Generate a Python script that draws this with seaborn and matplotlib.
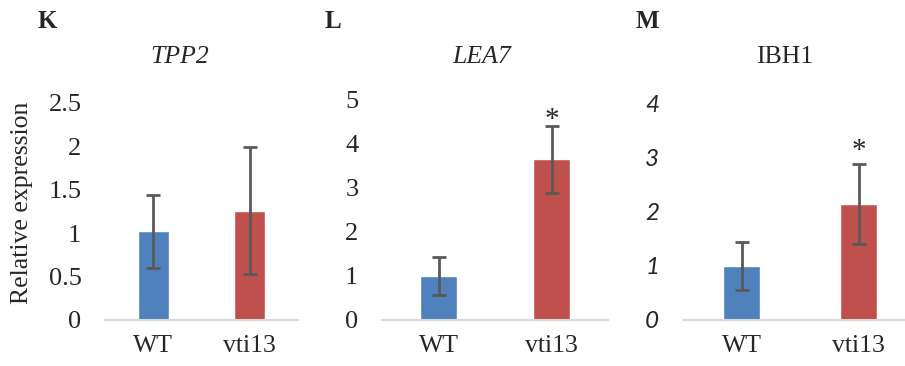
import matplotlib
matplotlib.use("Agg")
import matplotlib.pyplot as plt
import seaborn as sns
import pandas as pd

# Expression data (mean and error) for each gene
genotypes = ["WT", "vti13"]
genes = ["TPP2", "LEA7", "IBH1"]
panel_letters = ["K", "L", "M"]
tpp2_mean = [1.02, 1.26]
tpp2_err = [0.42, 0.73]
lea7_mean = [1.00, 3.65]
lea7_err = [0.43, 0.76]
ibh1_mean = [1.00, 2.15]
ibh1_err = [0.45, 0.74]
significant = [[False, False], [False, True], [False, True]]
y_max = [2.5, 5, 4]
y_ticks = [[0, 0.5, 1, 1.5, 2, 2.5], [0, 1, 2, 3, 4, 5], [0, 1, 2, 3, 4]]
y_ticklabels = [["0", "0.5", "1", "1.5", "2", "2.5"],
                ["0", "1", "2", "3", "4", "5"],
                ["0", "1", "2", "3", "4"]]

means = [tpp2_mean, lea7_mean, ibh1_mean]
errs = [tpp2_err, lea7_err, ibh1_err]

sns.set_style("white")
plt.rcParams["font.family"] = ["Liberation Serif", "DejaVu Serif"]

W, H = 905, 366
fig = plt.figure(figsize=(W / 100, H / 100), dpi=100)

# axes boxes in pixels: left, right, top, bottom
boxes = [(105, 298, 103, 320), (382, 608, 100, 320), (683, 917, 104, 320)]
title_x = [180, 482, 785]
letter_x = [47, 333, 647]
star_offset = [0, -5, 0]

colors = {"WT": "#4F81BD", "vti13": "#C0504D"}

for i, (l, r, t, b) in enumerate(boxes):
    ax = fig.add_axes([l / W, 1 - b / H, (r - l) / W, (b - t) / H])
    df = pd.DataFrame({"genotype": genotypes, "value": means[i]})
    sns.barplot(data=df, x="genotype", y="value", hue="genotype",
                palette=colors, width=0.32, ax=ax, legend=False,
                saturation=1, errorbar=None)
    ax.errorbar(range(len(genotypes)), means[i], yerr=errs[i], fmt="none",
                ecolor="#595959", elinewidth=2, capsize=5, capthick=2)
    for j, sig in enumerate(significant[i]):
        if sig:
            ax.annotate("*", (j, means[i][j] + errs[i][j]),
                        xytext=(0, star_offset[i]), textcoords="offset points",
                        ha="center", va="bottom", fontsize=21,
                        family="Liberation Serif")
    ax.set_xlim(-0.5, 1.5)
    ax.set_ylim(0, y_max[i])
    ax.set_yticks(y_ticks[i])
    if i == 2:
        ax.set_yticklabels(y_ticklabels[i], fontsize=17.5, style="italic",
                           family=["Lato", "DejaVu Sans"])
    else:
        ax.set_yticklabels(y_ticklabels[i], fontsize=19)
    ax.tick_params(axis="y", length=0, pad=17)
    ax.tick_params(axis="x", length=0, pad=11, labelsize=18.5)
    ax.set_xlabel("")
    ax.set_ylabel("")
    for s in ["top", "right", "left"]:
        ax.spines[s].set_visible(False)
    ax.spines["bottom"].set_color("#D9D9D9")
    ax.spines["bottom"].set_linewidth(1.5)
    ax.patch.set_alpha(0)

    fig.text(title_x[i] / W, 1 - 57 / H, genes[i], ha="center", va="center",
             fontsize=18.5, style="normal" if i == 2 else "italic")
    fig.text(letter_x[i] / W, 1 - 22 / H, panel_letters[i], ha="center",
             va="center", fontsize=18, fontweight="bold")

fig.text(22 / W, 1 - 203 / H, "Relative expression", rotation=90,
         ha="center", va="center", fontsize=18.5)

fig.savefig("out.png", dpi=100, facecolor="white")
